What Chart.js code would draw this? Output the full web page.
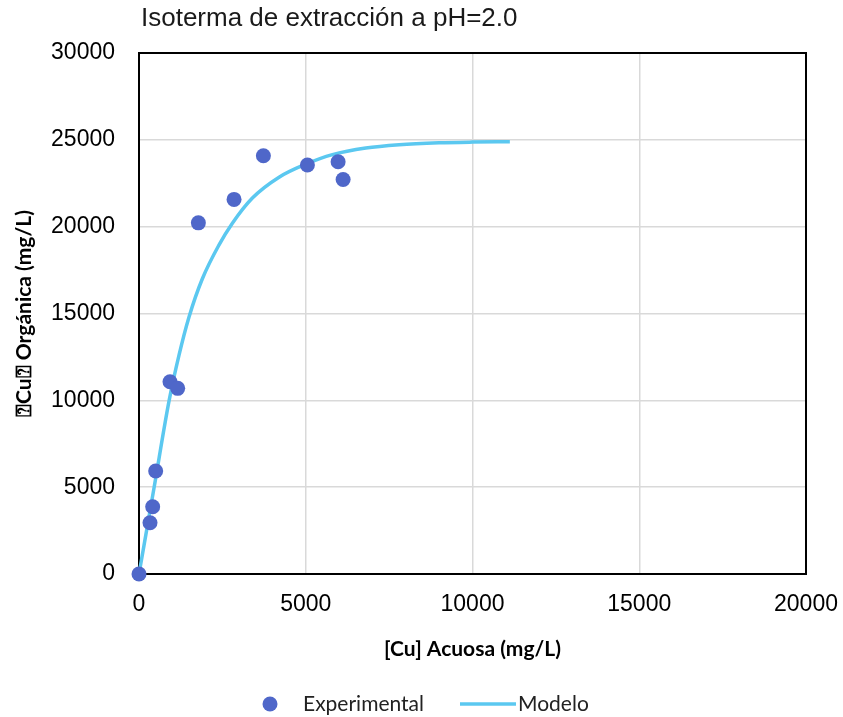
<!DOCTYPE html>
<html>
<head>
<meta charset="utf-8">
<script src="https://cdn.jsdelivr.net/npm/chart.js@4"></script>
<style>
  html, body { margin:0; padding:0; background:#fff; }
  #wrap { width:843px; height:717px; }
</style>
</head>
<body>
<div id="wrap"><canvas id="chart" width="843" height="717"></canvas></div>
<script>
// chart values
const titleText = 'Isoterma de extracción a pH=2.0';
const xTitle = '[Cu] Acuosa (mg/L)';
const yTitle = '⍰Cu⍰ Orgánica (mg/L)';

// experimental points
const expX = [0, 330, 410, 500, 930, 1160, 1780, 2850, 3730, 5050, 5970, 6120];
const expY = [0, 2950, 3870, 5930, 11070, 10690, 20220, 21570, 24080, 23550, 23740, 22720];

// model curve
const modX = [0, 450, 900, 1200, 1500, 1900, 2400, 2800, 3400, 4200, 5000, 5800, 6800, 7800, 9000, 10000, 11120];
const modY = [0, 4950, 9950, 12600, 14800, 17000, 18950, 20200, 21650, 22850, 23600, 24150, 24530, 24720, 24830, 24870, 24890];

const xMin = 0, xMax = 20000, xStep = 5000;
const yMin = 0, yMax = 30000, yStep = 5000;

const legendNames = ['Experimental', 'Modelo'];

const dotColor = '#4F67C9';
const lineColor = '#5BC8F0';

// plot frame + title + bottom legend, drawn on the canvas
const extras = {
  id: 'extras',
  beforeDatasetsDraw(chart){
    const {ctx, chartArea:a} = chart;
    ctx.save();
    ctx.strokeStyle = '#000';
    ctx.lineWidth = 2;
    ctx.strokeRect(a.left, a.top, a.right - a.left, a.bottom - a.top);
    ctx.restore();
  },
  afterDraw(chart){
    const {ctx, chartArea:a} = chart;
    ctx.save();
    ctx.fillStyle = '#1a1a1a';
    ctx.font = '26px "Liberation Sans", Arial, sans-serif';
    ctx.textBaseline = 'middle';
    ctx.textAlign = 'left';
    ctx.fillText(titleText, a.left + 2, 19);

    // legend
    const ds = chart.data.datasets;
    const ly = 704;
    ctx.font = '21px Lato, "Open Sans", sans-serif';
    ctx.beginPath();
    ctx.arc(270, ly, 7.5, 0, Math.PI*2);
    ctx.fillStyle = ds[0].backgroundColor;
    ctx.fill();
    ctx.fillStyle = '#222';
    ctx.fillText(ds[0].label, 303, ly);
    ctx.strokeStyle = ds[1].borderColor;
    ctx.lineWidth = 3.5;
    ctx.beginPath();
    ctx.moveTo(460, ly); ctx.lineTo(516, ly);
    ctx.stroke();
    ctx.fillText(ds[1].label, 518, ly);
    ctx.restore();
  }
};

new Chart(document.getElementById('chart'), {
  type: 'scatter',
  data: {
    datasets: [
      {
        label: legendNames[0],
        data: expX.map((x, i) => ({x, y: expY[i]})),
        backgroundColor: dotColor,
        borderColor: dotColor,
        pointRadius: 7.5,
        pointHoverRadius: 7.5,
        borderWidth: 0,
        showLine: false,
        clip: false,
        order: 0
      },
      {
        label: legendNames[1],
        data: modX.map((x, i) => ({x, y: modY[i]})),
        borderColor: lineColor,
        backgroundColor: lineColor,
        borderWidth: 3.5,
        pointRadius: 0,
        showLine: true,
        cubicInterpolationMode: 'monotone',
        clip: false,
        order: 1
      }
    ]
  },
  options: {
    responsive: false,
    animation: false,
    events: [],
    layout: { padding: { top: 53, right: 37, bottom: 55, left: 0 } },
    plugins: {
      legend: { display: false },
      title: { display: false },
      tooltip: { enabled: false }
    },
    scales: {
      x: {
        type: 'linear',
        min: xMin, max: xMax,
        afterFit: s => { s.height = 88; s.paddingLeft = 0; s.paddingRight = 0; },
        ticks: {
          stepSize: xStep,
          padding: 17,
          color: '#000',
          callback: v => String(v),
          font: { family: '"Liberation Sans", Arial, sans-serif', size: 23 }
        },
        grid: { color: '#d9d9d9', lineWidth: 1.5, drawTicks: false },
        border: { display: false },
        title: {
          display: true,
          text: xTitle,
          color: '#000',
          padding: { top: 0, bottom: 0 },
          font: { family: 'Lato, "Open Sans", sans-serif', size: 21, weight: 'bold' }
        }
      },
      y: {
        type: 'linear',
        min: yMin, max: yMax,
        afterFit: s => { s.width = 139; s.paddingTop = 0; s.paddingBottom = 0; },
        ticks: {
          stepSize: yStep,
          padding: 24,
          color: '#000',
          callback: v => String(v),
          font: { family: '"Liberation Sans", Arial, sans-serif', size: 23 }
        },
        grid: { color: '#d9d9d9', lineWidth: 1.5, drawTicks: false },
        border: { display: false },
        title: {
          display: true,
          text: yTitle,
          color: '#000',
          padding: { top: 12, bottom: 0 },
          font: { family: 'Lato, "DejaVu Sans", sans-serif', size: 21, weight: 'bold' }
        }
      }
    }
  },
  plugins: [extras]
});
</script>
</body>
</html>
